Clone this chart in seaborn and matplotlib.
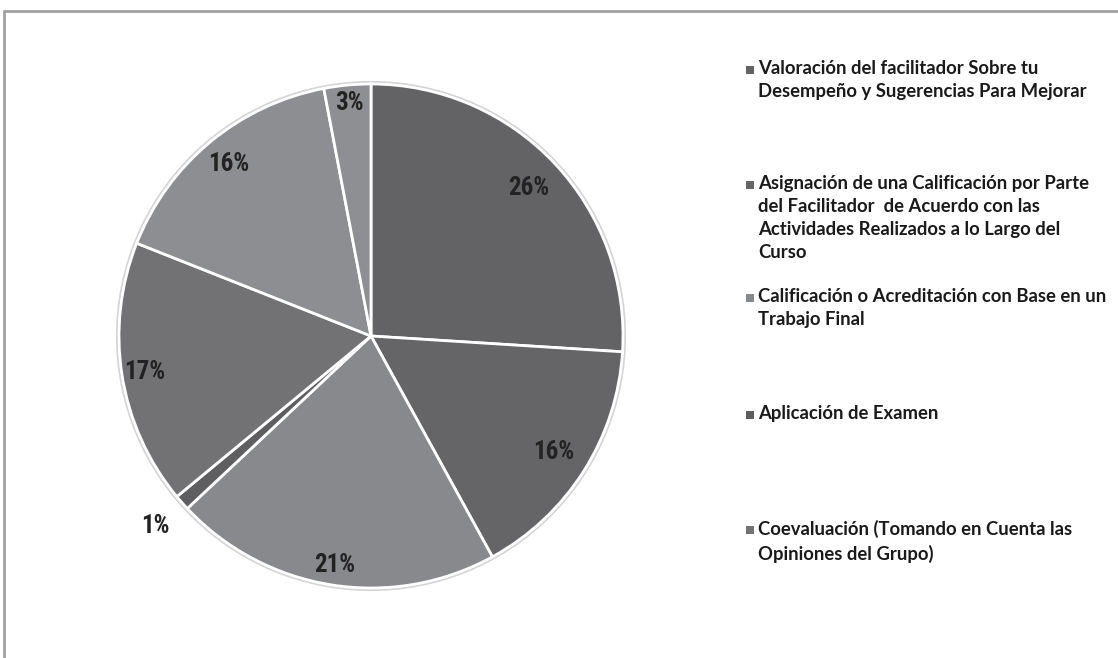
import numpy as np
import matplotlib
matplotlib.use("Agg")
import matplotlib.pyplot as plt
from matplotlib.lines import Line2D
from matplotlib.patches import Rectangle, Circle
import seaborn as sns

# Evaluation methods and their share (%)
categories = [
    "Valoración del facilitador Sobre tu\nDesempeño y Sugerencias Para Mejorar",
    "Asignación de una Calificación por Parte\ndel Facilitador  de Acuerdo con las\nActividades Realizados a lo Largo del\nCurso",
    "Calificación o Acreditación con Base en un\nTrabajo Final",
    "Aplicación de Examen",
    "Coevaluación (Tomando en Cuenta las\nOpiniones del Grupo)",
    "Autoevaluación",
    "Otros",
]
shares = [26, 16, 21, 1, 17, 16, 3]
pct_labels = ["26%", "16%", "21%", "1%", "17%", "16%", "3%"]
legend_count = 5  # only the first five categories are listed beside the pie

sns.set_theme(style="white")
plt.rcParams["font.family"] = ["Lato", "DejaVu Sans"]
pct_family = ["Roboto Condensed", "Liberation Sans Narrow", "Roboto", "DejaVu Sans"]

slice_colors = ["#636366", "#656568", "#88898c", "#5e5e61", "#727275", "#8d8e91", "#8e8f92"]
label_dist = [0.86, 0.86, 0.92, 1.14, 0.91, 0.885, 0.93]

W, H = 1118, 658
fig = plt.figure(figsize=(W / 100, H / 100), dpi=100)
fig.patch.set_facecolor("white")

# pie centre and radius in pixels; the axes is padded by 2% around the disc
cx, cy, r = 371, 336, 252
half = r * 1.02
ax = fig.add_axes([(cx - half) / W, (H - cy - half) / H, 2 * half / W, 2 * half / H])
wedges, _ = ax.pie(
    shares,
    colors=slice_colors,
    startangle=90,
    counterclock=False,
    radius=1.0,
    wedgeprops=dict(edgecolor="white", linewidth=2.0),
)
ax.add_patch(Circle((0, 0), 1.008, fill=False, edgecolor="#d4d4d6", linewidth=1.5, zorder=0))
ax.set_xlim(-1.02, 1.02)
ax.set_ylim(-1.02, 1.02)
ax.set_aspect("equal")
ax.axis("off")

for w, txt, d in zip(wedges, pct_labels, label_dist):
    mid = np.deg2rad((w.theta1 + w.theta2) / 2)
    ax.text(d * np.cos(mid), d * np.sin(mid), txt, ha="center", va="center",
            fontsize=18, fontweight="bold", color="#222222", family=pct_family)

# Legend beside the pie
legend_tops = [60, 175, 288, 405, 520]
for name, col, top in zip(categories[:legend_count], slice_colors[:legend_count], legend_tops):
    fig.patches.append(Rectangle((746 / W, 1 - (top + 14) / H), 8 / W, 8 / H,
                                 transform=fig.transFigure, facecolor=col, edgecolor="none"))
    fig.text(758 / W, 1 - top / H, name, ha="left", va="top", fontsize=13.3,
             fontweight="bold", color="#1a1a1a", linespacing=1.42)

# Chart frame (top and left edges)
fig.add_artist(Line2D([4 / W, 1.0], [1 - 11 / H, 1 - 11 / H], transform=fig.transFigure,
                      color="#a2a2a4", linewidth=2))
fig.add_artist(Line2D([4 / W, 4 / W], [1 - 11 / H, 0.0], transform=fig.transFigure,
                      color="#a2a2a4", linewidth=2))

fig.savefig("out.png", dpi=100, facecolor="white")
